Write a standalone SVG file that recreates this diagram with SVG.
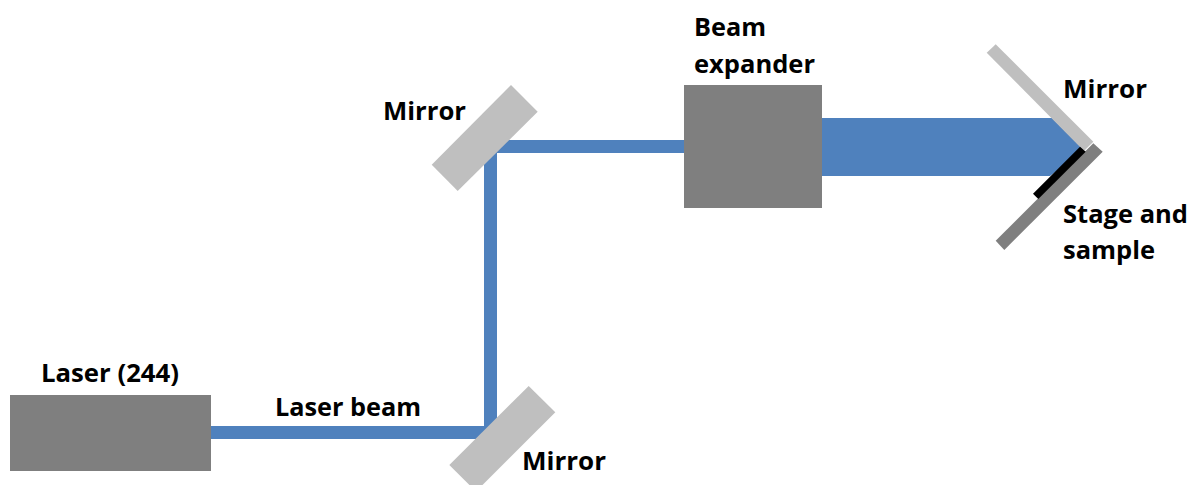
<svg xmlns="http://www.w3.org/2000/svg" width="1190" height="485" viewBox="0 0 1190 485">
<style>
.dev{fill:#7f7f7f}
.mir{fill:#bfbfbf}
.beam{fill:#4f81bd}
text{font-family:"Open Sans","Noto Sans",sans-serif;font-weight:700;font-size:25px;fill:#000}
</style>
<rect width="1190" height="485" fill="#fff"/>
<g id="connectors">
<rect class="beam" x="211" y="426" width="279" height="13"/>
<rect class="beam" x="484" y="146" width="13" height="288"/>
<rect class="beam" x="490" y="140" width="194" height="13"/>
<polygon class="beam" points="822,118 1052,118 1084,150 1050,176 822,176"/>
</g>
<g id="laser"><rect class="dev" x="10" y="395" width="201" height="76"/><text x="41" y="382" textLength="138" lengthAdjust="spacingAndGlyphs">Laser (244)</text></g>
<g id="beam-label"><text x="275" y="416" textLength="146" lengthAdjust="spacingAndGlyphs">Laser beam</text></g>
<g id="mirror-bottom"><polygon class="mir" points="528.7,386 555.3,412.3 476,491.5 449.3,465"/><text x="522" y="470" textLength="84" lengthAdjust="spacingAndGlyphs">Mirror</text></g>
<g id="mirror-top"><polygon class="mir" points="511,85 537.7,111.7 457.7,191 431.7,164.7"/><text x="383" y="120" textLength="83" lengthAdjust="spacingAndGlyphs">Mirror</text></g>
<g id="beam-expander"><rect class="dev" x="684" y="85" width="138" height="123"/><text x="694" y="36" textLength="72" lengthAdjust="spacingAndGlyphs">Beam</text><text x="694" y="73" textLength="121" lengthAdjust="spacingAndGlyphs">expander</text></g>
<g id="mirror-right"><polygon class="mir" points="986.7,52.7 995.7,44.3 1093.3,141.7 1084,151"/><text x="1063" y="98" textLength="84" lengthAdjust="spacingAndGlyphs">Mirror</text></g>
<g id="stage"><polygon class="dev" points="1093.3,143.3 1102.7,151.7 1004.3,250 995.7,240.7"/><polygon fill="#000" points="1080,146.7 1085.7,151.7 1038.3,199 1033,193.7"/><text x="1063" y="223" textLength="125" lengthAdjust="spacingAndGlyphs">Stage and</text><text x="1063" y="259" textLength="92" lengthAdjust="spacingAndGlyphs">sample</text></g>
</svg>
